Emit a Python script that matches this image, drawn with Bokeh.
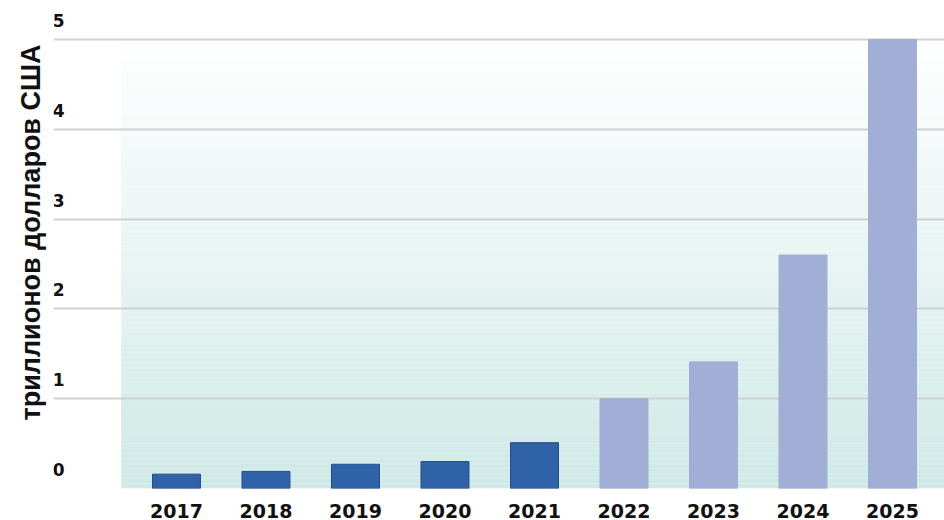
import numpy as np
from bokeh.plotting import figure
from bokeh.models import ColumnDataSource, FixedTicker, Range1d, Title
from bokeh.core.properties import value
from bokeh.embed import file_html
from bokeh.resources import INLINE

# ---- data ----
years = [2017, 2018, 2019, 2020, 2021, 2022, 2023, 2024, 2025]
values = [0.16, 0.19, 0.27, 0.30, 0.51, 1.0, 1.41, 2.6, 5.0]
status = ["actual", "actual", "actual", "actual", "actual",
          "forecast", "forecast", "forecast", "forecast"]
y_ticks = [0, 1, 2, 3, 4, 5]
y_title = "триллионов долларов США"

# ---- style ----
fill_map = {"actual": "#2f62a6", "forecast": "#a1afd6"}
line_map = {"actual": "#1d4f92", "forecast": "#a1afd6"}

x_start, x_end = 2015.626, 2025.581
y_start, y_end = 0.0, 5.434

p = figure(width=944, height=520, output_backend="svg", toolbar_location=None,
           x_range=Range1d(x_start, x_end), y_range=Range1d(y_start, y_end),
           min_border_left=53, min_border_right=0, min_border_top=0, min_border_bottom=0)
p.outline_line_color = None
p.background_fill_color = "white"
p.border_fill_color = "white"

# gradient panel behind the bars (white at top to pale teal at bottom)
top_c = np.array([255, 255, 255])
bot_c = np.array([207, 233, 230])
edges = np.linspace(0, 5.05, 91)
mids = (edges[:-1] + edges[1:]) / 2
frac = mids / 5.05
cols = ["#%02x%02x%02x" % tuple(np.round(bot_c + (top_c - bot_c) * f).astype(int)) for f in frac]
p.quad(left=2016.382, right=x_end, bottom=edges[:-1], top=edges[1:],
       fill_color=cols, line_color=None, level="image")

# bars
src = ColumnDataSource(dict(
    x=years, top=values,
    fill=[fill_map[s] for s in status],
    line=[line_map[s] for s in status],
))
p.vbar(x="x", top="top", bottom=0, width=0.536, source=src,
       fill_color="fill", line_color="line", line_width=1)

# x axis
p.xaxis.ticker = FixedTicker(ticks=years)
p.xaxis.axis_line_color = None
p.xaxis.major_tick_line_color = None
p.xaxis.minor_tick_line_color = None
p.xaxis.major_tick_out = 0
p.xaxis.major_tick_in = 0
p.xaxis.major_label_standoff = 15
p.xaxis.major_label_text_font = "DejaVu Sans"
p.xaxis.major_label_text_font_style = "bold"
p.xaxis.major_label_text_font_size = "19px"
p.xaxis.major_label_text_color = "#111111"

# y axis hidden; its title is a side title, tick numbers drawn above grid lines
p.yaxis.visible = False
p.add_layout(Title(text=y_title, align="left", offset=68, standoff=16,
                   text_font="Liberation Sans", text_font_style="bold",
                   text_font_size="27px", text_color="#111111"), "left")

p.xgrid.visible = False
p.ygrid.ticker = FixedTicker(ticks=y_ticks)
p.ygrid.grid_line_color = "#cfd1d1"
p.ygrid.grid_line_width = 2

p.text(x=[x_start + 0.058] * len(y_ticks), y=y_ticks, text=[str(t) for t in y_ticks],
       text_font=value("DejaVu Sans"), text_font_style="bold", text_font_size="17px",
       text_color="#111111", text_align="center", text_baseline="middle", y_offset=-19)

open("out.html", "w").write(file_html(p, INLINE))
